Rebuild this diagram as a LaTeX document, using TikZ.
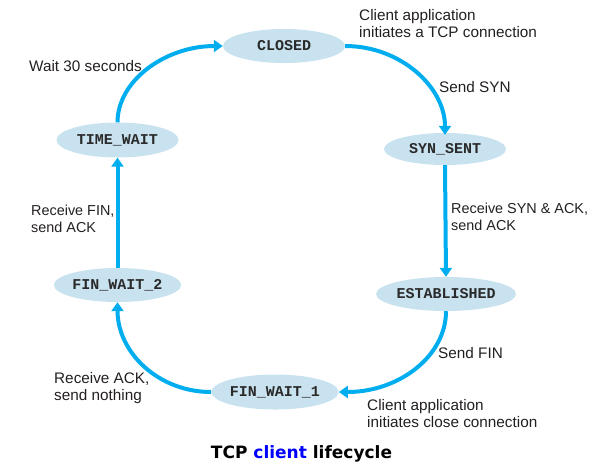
\documentclass[tikz,border=0pt]{standalone}
\usepackage{fontspec}
\setmainfont{Liberation Sans}
\newfontfamily\monofont{Liberation Mono}
\newfontfamily\titlefont{DejaVu Sans}
\usetikzlibrary{shapes.geometric,arrows.meta}
\definecolor{arrowblue}{HTML}{00AEEF}
\definecolor{statefill}{HTML}{C9E2EF}
\definecolor{labelgray}{HTML}{231F20}
\definecolor{monogray}{HTML}{2A2A2A}
\definecolor{titleblue}{HTML}{0000FF}
\tikzset{
  state/.style={ellipse, fill=statefill, draw=none, inner sep=0pt,
    minimum width=122pt, minimum height=34pt,
    font=\monofont\bfseries\fontsize{15}{15}\selectfont, text=monogray},
  lbl/.style={anchor=base west, align=left, inner sep=0pt, text=labelgray,
    font=\fontsize{15.3}{17.5}\selectfont},
  lblsmall/.style={lbl, font=\fontsize{14.4}{17.5}\selectfont},
  trans/.style={draw=arrowblue, line width=4pt,
    -{Triangle[width=12pt,length=9pt]}}
}
\begin{document}
\begin{tikzpicture}[x=1pt,y=-1pt]
\useasboundingbox (0,0) rectangle (593,467);
% states
\node[state] (closed) at (284,46) {CLOSED};
\node[state, minimum height=32pt] (syn) at (445,149) {SYN\_SENT};
\node[state] (est) at (446,294) {ESTABLISHED};
\node[state, minimum height=35pt] (tw) at (117.5,140) {TIME\_WAIT};
\node[state] (fw2) at (117.5,285) {FIN\_WAIT\_2};
\node[state, minimum width=120pt, minimum height=35pt] (fw1) at (275,392) {FIN\_WAIT\_1};
% transitions
\draw[trans] (tw.north) .. controls +(0,-42) and +(-57,0) .. (closed.west);
\draw[trans] (closed.east) .. controls +(55,0) and +(0,-48) .. ([yshift=-2pt]syn.north);
\draw[trans] (syn.south) -- (est.north);
\draw[trans] (est.south) .. controls +(0,45) and +(60,0) .. (fw1.east);
\draw[trans] (fw1.west) .. controls +(-53,0) and +(0,50) .. (fw2.south);
\draw[trans] (fw2.north) -- (tw.south);
% labels (multi-line: base anchor = last line's baseline)
\node[lbl] (l1) at (359,37.5) {Client application\\initiates a TCP connection};
\node[lbl] (l2) at (439,92) {Send SYN};
\node[lbl] (l3) at (29,71) {Wait 30 seconds};
\node[lblsmall] (l4) at (31,232.5) {Receive FIN,\\send ACK};
\node[lblsmall] (l5) at (451,230.5) {Receive SYN \& ACK,\\send ACK};
\node[lbl] (l6) at (438,358) {Send FIN};
\node[lbl] (l7) at (54,400.5) {Receive ACK,\\send nothing};
\node[lbl] (l8) at (367,427.5) {Client application\\initiates close connection};
% title
\node[anchor=base, inner sep=0pt, font=\titlefont\bfseries\fontsize{17}{17}\selectfont] (title) at (301.5,458)
  {TCP \textcolor{titleblue}{client} lifecycle};
\end{tikzpicture}
\end{document}
